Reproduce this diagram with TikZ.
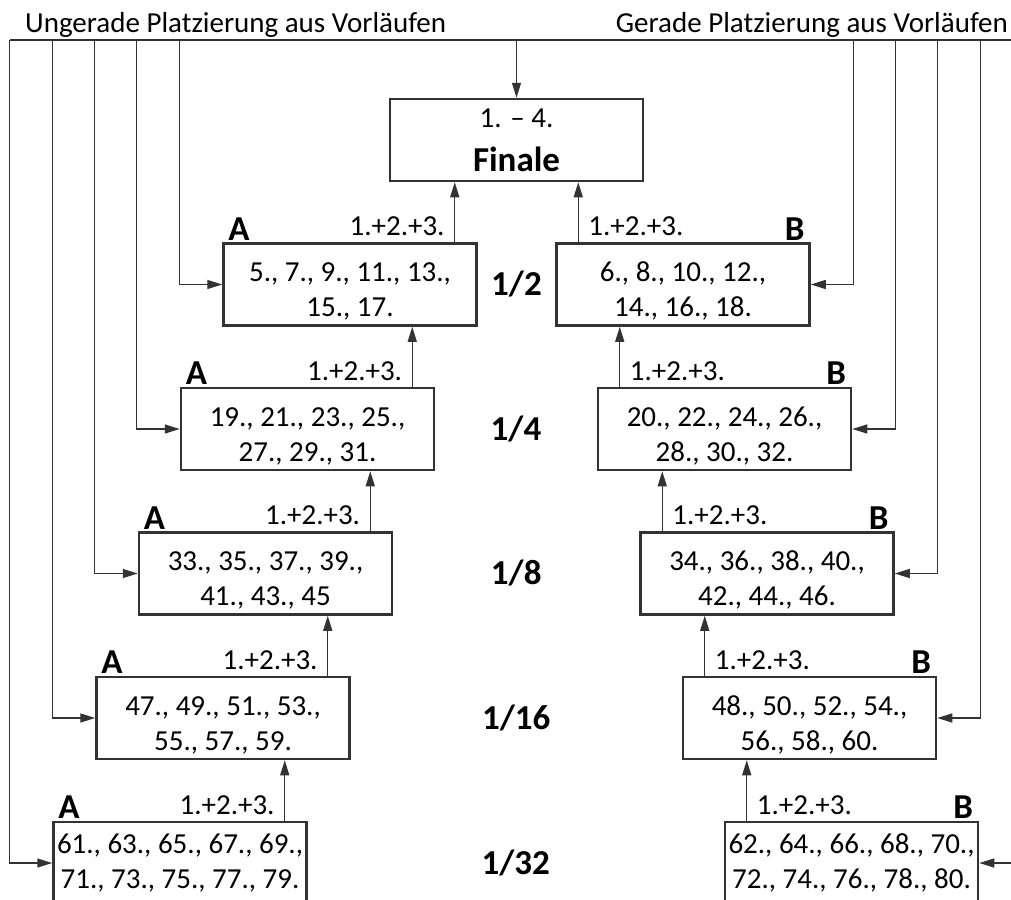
\documentclass[tikz,border=0pt]{standalone}
\usepackage{fontspec}
\setmainfont{Carlito}
\usetikzlibrary{arrows.meta, positioning, calc}
\newcommand{\obenluft}{\rule{0pt}{33pt}}

\begin{document}
\begin{tikzpicture}[x=1pt, y=-1pt,
    runde/.style={draw=black!80, line width=2.5pt, minimum width=253pt, minimum height=82pt, inner sep=0pt, align=center, font=\fontsize{29}{35}\selectfont},
    linie/.style={line width=1.4pt, draw=black!80},
    pfeil/.style={linie, -{Triangle[length=15pt, width=9pt]}},
    titel/.style={font=\fontsize{29}{29}\selectfont, inner sep=0pt},
    quali/.style={font=\fontsize{29}{29}\selectfont, inner sep=0pt},
    gruppe/.style={font=\fontsize{35}{35}\selectfont\bfseries, inner sep=0pt},
    stufe/.style={font=\fontsize{35}{35}\selectfont\bfseries, inner sep=0pt}
]
\clip (0,0) rectangle (1011,899);

% Kopfzeile
\coordinate (kopfL) at (10,40);
\coordinate (kopfR) at (1011,40);
\draw[linie] (kopfL) -- (kopfR);
\node[titel, anchor=base west] (ungerade) at (25,33) {Ungerade Platzierung aus Vorläufen};
\node[titel, anchor=base east] (gerade) at (1008,33) {Gerade Platzierung aus Vorläufen};

% Finale
\node[runde] (finale) at (516.5,140) {1. -- 4.\\[9pt]{\fontsize{35}{35}\selectfont\bfseries Finale}};
\draw[pfeil] (finale.north |- kopfL) -- (finale.north);

% Runden, Seite A
\node[runde] (a2) at (350,284.5) {\obenluft 5., 7., 9., 11., 13.,\\15., 17.};
\node[runde] (a4) at (307.5,429) {\obenluft 19., 21., 23., 25.,\\27., 29., 31.};
\node[runde] (a8) at (265.5,573.5) {\obenluft 33., 35., 37., 39.,\\41., 43., 45};
\node[runde] (a16) at (223,718) {\obenluft 47., 49., 51., 53.,\\55., 57., 59.};
\node[runde] (a32) at (180,863) {61., 63., 65., 67., 69.,\\71., 73., 75., 77., 79.};

% Runden, Seite B
\node[runde] (b2) at (683,284.5) {\obenluft 6., 8., 10., 12.,\\14., 16., 18.};
\node[runde] (b4) at (724.5,429) {\obenluft 20., 22., 24., 26.,\\28., 30., 32.};
\node[runde] (b8) at (767,573.5) {\obenluft 34., 36., 38., 40.,\\42., 44., 46.};
\node[runde] (b16) at (809.5,718) {\obenluft 48., 50., 52., 54.,\\56., 58., 60.};
\node[runde] (b32) at (851.5,863) {62., 64., 66., 68., 70.,\\72., 74., 76., 78., 80.};

% Stufen
\node[stufe] (s2) at ($(a2.east)!0.5!(b2.west)$) {1/2};
\node[stufe] (s4) at ($(a4.east)!0.5!(b4.west)$) {1/4};
\node[stufe] (s8) at ($(a8.east)!0.5!(b8.west)$) {1/8};
\node[stufe] (s16) at ($(a16.east)!0.5!(b16.west)$) {1/16};
\node[stufe] (s32) at ($(a32.east)!0.5!(b32.west)$) {1/32};

% Gruppen A und B
\foreach \r in {2,4,8,16,32} {
  \node[gruppe, above right=2pt and 6pt of a\r.north west] {A};
  \node[gruppe, above left=2pt and 6pt of b\r.north east] {B};
}

% Aufstieg 1.+2.+3.
\foreach \r/\z in {2/finale,4/a2,8/a4,16/a8,32/a16} {
  \coordinate (a\r fuss) at ([xshift=-23pt]a\r.north east);
  \draw[pfeil] (a\r fuss) -- (a\r fuss |- \z.south);
  \node[quali, above left=6pt and 10pt of a\r fuss] {1.+2.+3.};
}
\foreach \r/\z in {2/finale,4/b2,8/b4,16/b8,32/b16} {
  \coordinate (b\r fuss) at ([xshift=23pt]b\r.north west);
  \draw[pfeil] (b\r fuss) -- (b\r fuss |- \z.south);
  \node[quali, above right=6pt and 10pt of b\r fuss] {1.+2.+3.};
}

% Zugang aus Vorlaeufen
\foreach \r in {2,4,8,16,32} {
  \draw[pfeil] ([xshift=-43pt]a\r.west |- kopfL) -- ([xshift=-43pt]a\r.west) -- (a\r.west);
  \draw[pfeil] ([xshift=43pt]b\r.east |- kopfR) -- ([xshift=43pt]b\r.east) -- (b\r.east);
}
\end{tikzpicture}
\end{document}
